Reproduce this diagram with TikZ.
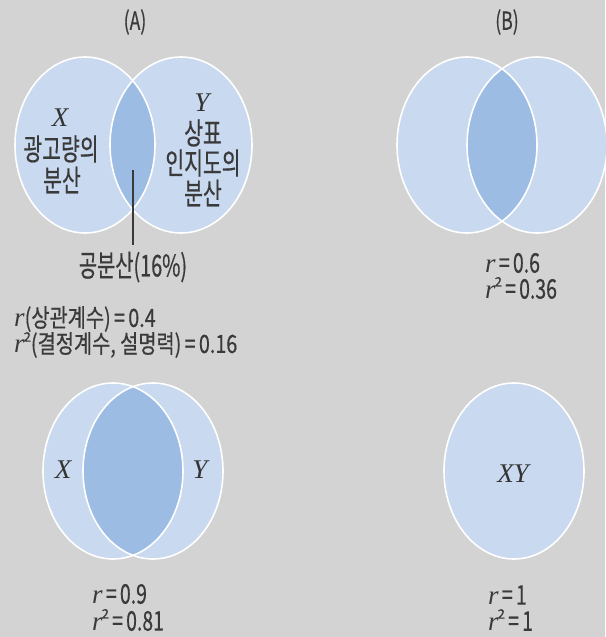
\documentclass[tikz,border=0pt]{standalone}
\usepackage{fontspec}
\usepackage{graphicx}
\setmainfont{Liberation Sans}
\newfontfamily\kr[FakeBold=0.6]{Noto Sans CJK KR}
\newfontfamily\tms{Liberation Serif}
\definecolor{bg}{HTML}{D3D3D3}
\definecolor{lt}{HTML}{C9D9EF}
\definecolor{dk}{HTML}{9CBCE3}
\definecolor{ink}{HTML}{3A3A3A}
\newcommand\cz[2][0.72]{\scalebox{#1}[1]{#2}}
\newcommand\myr{{\tms\itshape\fontsize{27}{28}\selectfont r}}
\newcommand\mysq{\raisebox{0.45em}{\fontsize{13}{13}\selectfont\kern-1pt 2}}
\tikzset{
  rim/.style={draw=white, line width=1.6pt},
  big/.style={inner sep=0pt, text=ink, font=\kr\fontsize{30}{31}\selectfont},
  mid/.style={inner sep=0pt, text=ink, font=\kr\fontsize{30}{32}\selectfont},
  sml/.style={inner sep=0pt, text=ink, font=\kr\fontsize{25}{26}\selectfont},
  num/.style={inner sep=0pt, text=ink, anchor=west, font=\kr\fontsize{27}{28}\selectfont},
  var/.style={inner sep=0pt, text=ink!90!black, font=\tms\itshape\fontsize{27}{28}\selectfont},
}
\begin{document}
\begin{tikzpicture}[x=1pt,y=-1pt]
\fill[bg] (0,0) rectangle (605,637);
\useasboundingbox (0,0) rectangle (605,637);
% ---------- Panel A ----------
\fill[lt] (85,145) ellipse [x radius=70pt, y radius=88pt];
\fill[lt] (181,145) ellipse [x radius=71pt, y radius=88pt];
\begin{scope}
  \clip (85,145) ellipse [x radius=70pt, y radius=88pt];
  \fill[dk] (181,145) ellipse [x radius=71pt, y radius=88pt];
\end{scope}
\draw[rim] (85,145) ellipse [x radius=70pt, y radius=88pt];
\draw[rim] (181,145) ellipse [x radius=71pt, y radius=88pt];
\node[sml] (labA) at (135,22) {\cz[0.7]{(A)}};
\node[var] (xA) at (60,118) {X};
\node[big] (xA1) at (61,149) {\cz[0.68]{광고량의}};
\node[big] (xA2) at (62,180) {\cz[0.68]{분산}};
\node[var] (yA) at (202,103) {Y};
\node[big] (yA1) at (203,133) {\cz[0.68]{상표}};
\node[big] (yA2) at (203,163) {\cz[0.68]{인지도의}};
\node[big] (yA3) at (203,193) {\cz[0.68]{분산}};
\coordinate (lens) at (133,170);
\coordinate (lineend) at (133,245);
\draw[ink, line width=1.1pt] (lens) -- (lineend);
\node[mid] (cov) at (133,267) {\cz[0.66]{공분산(16\%)}};
\node[sml, anchor=west] (rA) at (14,319) {\myr\cz[0.79]{(상관계수)\,=\,0.4}};
\node[sml, anchor=west] (r2A) at (14,345) {\myr\mysq\cz[0.79]{(결정계수, 설명력)\,=\,0.16}};
% ---------- Panel B ----------
\fill[lt] (467,145) ellipse [x radius=70pt, y radius=88pt];
\fill[lt] (537,145) ellipse [x radius=70pt, y radius=88pt];
\begin{scope}
  \clip (467,145) ellipse [x radius=70pt, y radius=88pt];
  \fill[dk] (537,145) ellipse [x radius=70pt, y radius=88pt];
\end{scope}
\draw[rim] (467,145) ellipse [x radius=70pt, y radius=88pt];
\draw[rim] (537,145) ellipse [x radius=70pt, y radius=88pt];
\node[sml] (labB) at (507,22) {\cz[0.7]{(B)}};
\node[num] (rB) at (485,263) {\myr\cz{\,=\,0.6}};
\node[num] (r2B) at (485,288) {\myr\mysq\cz{\,=\,0.36}};
% ---------- Panel C ----------
\fill[lt] (113,471) ellipse [x radius=70pt, y radius=88pt];
\fill[lt] (153,471) ellipse [x radius=70pt, y radius=88pt];
\begin{scope}
  \clip (113,471) ellipse [x radius=70pt, y radius=88pt];
  \fill[dk] (153,471) ellipse [x radius=70pt, y radius=88pt];
\end{scope}
\draw[rim] (113,471) ellipse [x radius=70pt, y radius=88pt];
\draw[rim] (153,471) ellipse [x radius=70pt, y radius=88pt];
\node[var] (xC) at (63,470) {X};
\node[var] (yC) at (200,470) {Y};
\node[num] (rC) at (92,594) {\myr\cz{\,=\,0.9}};
\node[num] (r2C) at (92,620) {\myr\mysq\cz{\,=\,0.81}};
% ---------- Panel D ----------
\fill[lt] (514,471) ellipse [x radius=70pt, y radius=88pt];
\draw[rim] (514,471) ellipse [x radius=70pt, y radius=88pt];
\node[var] (xyD) at (513,474) {XY};
\node[num] (rD) at (488,595) {\myr\cz{\,=\,1}};
\node[num] (r2D) at (488,620) {\myr\mysq\cz{\,=\,1}};
\end{tikzpicture}
\end{document}
